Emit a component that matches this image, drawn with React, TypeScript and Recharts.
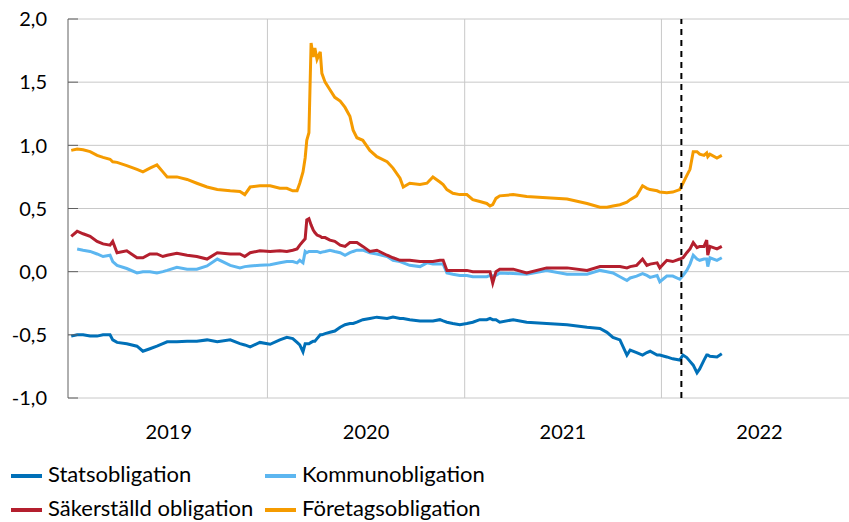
import React from "react";
import { LineChart, Line, XAxis, YAxis, CartesianGrid, ReferenceLine, Legend } from "recharts";

const FONT = "Lato, 'Open Sans', sans-serif";

const dates = [
  "2019-01-02", "2019-01-13", "2019-01-24", "2019-02-06", "2019-02-19", "2019-03-02", "2019-03-15", "2019-03-20",
  "2019-03-28", "2019-04-15", "2019-05-04", "2019-05-15", "2019-05-28", "2019-06-10", "2019-06-21", "2019-06-29",
  "2019-07-17", "2019-08-05", "2019-08-23", "2019-09-11", "2019-09-30", "2019-10-24", "2019-11-11", "2019-11-20",
  "2019-11-30", "2019-12-18", "2020-01-06", "2020-01-24", "2020-02-06", "2020-02-17", "2020-02-25", "2020-03-01",
  "2020-03-07", "2020-03-11", "2020-03-14", "2020-03-18", "2020-03-22", "2020-03-26", "2020-03-29", "2020-04-02",
  "2020-04-08", "2020-04-11", "2020-04-17", "2020-04-26", "2020-05-05", "2020-05-15", "2020-05-24", "2020-06-02",
  "2020-06-08", "2020-06-15", "2020-06-26", "2020-07-09", "2020-07-22", "2020-08-10", "2020-08-21", "2020-09-03",
  "2020-09-09", "2020-09-21", "2020-10-10", "2020-10-23", "2020-11-03", "2020-11-16", "2020-11-22", "2020-11-29",
  "2020-12-10", "2020-12-23", "2021-01-05", "2021-01-16", "2021-01-29", "2021-02-11", "2021-02-17", "2021-02-22",
  "2021-02-28", "2021-03-07", "2021-04-01", "2021-04-26", "2021-06-02", "2021-07-10", "2021-08-16", "2021-09-09",
  "2021-09-22", "2021-10-03", "2021-10-16", "2021-10-29", "2021-11-04", "2021-11-16", "2021-11-27", "2021-12-05",
  "2021-12-11", "2021-12-24", "2021-12-29", "2022-01-11", "2022-01-22", "2022-02-04", "2022-02-10", "2022-02-17",
  "2022-02-23", "2022-03-01", "2022-03-08", "2022-03-13", "2022-03-21", "2022-03-26", "2022-03-28", "2022-04-01",
  "2022-04-14", "2022-04-23",
];

const stats = [
  -0.51, -0.5, -0.5, -0.51, -0.51, -0.5, -0.5, -0.54,
  -0.56, -0.57, -0.59, -0.63, -0.61, -0.59, -0.57, -0.555,
  -0.555, -0.55, -0.55, -0.54, -0.555, -0.54, -0.57, -0.58,
  -0.595, -0.56, -0.575, -0.54, -0.52, -0.53, -0.56, -0.58,
  -0.635, -0.57, -0.57, -0.57, -0.56, -0.55, -0.55, -0.53,
  -0.5, -0.5, -0.49, -0.48, -0.47, -0.44, -0.42, -0.41,
  -0.41, -0.4, -0.38, -0.37, -0.36, -0.37, -0.36, -0.37,
  -0.37, -0.38, -0.39, -0.39, -0.39, -0.38, -0.39, -0.4,
  -0.41, -0.42, -0.41, -0.4, -0.38, -0.38, -0.37, -0.38,
  -0.38, -0.4, -0.38, -0.4, -0.41, -0.42, -0.44, -0.45,
  -0.48, -0.52, -0.54, -0.66, -0.62, -0.64, -0.66, -0.64,
  -0.63, -0.66, -0.66, -0.675, -0.69, -0.7, -0.66, -0.68,
  -0.71, -0.74, -0.8, -0.77, -0.7, -0.66, -0.66, -0.67,
  -0.675, -0.65,
];

const kommun = [
  null, 0.18, 0.17, 0.16, 0.14, 0.12, 0.13, 0.08,
  0.05, 0.025, -0.01, 0.0, 0.0, -0.01, 0.0, 0.01,
  0.035, 0.02, 0.02, 0.045, 0.1, 0.05, 0.03, 0.04,
  0.045, 0.05, 0.055, 0.07, 0.08, 0.08, 0.07, 0.09,
  0.07, 0.16, 0.15, 0.16, 0.16, 0.16, 0.16, 0.16,
  0.15, 0.155, 0.16, 0.17, 0.16, 0.15, 0.13, 0.15,
  0.16, 0.17, 0.17, 0.15, 0.14, 0.12, 0.09, 0.08,
  0.07, 0.05, 0.04, 0.07, 0.06, 0.06, 0.06, -0.01,
  -0.02, -0.03, -0.03, -0.04, -0.04, -0.04, -0.03, -0.035,
  -0.03, -0.01, -0.015, -0.02, 0.01, -0.02, -0.02, 0.01,
  0.0, -0.01, -0.04, -0.07, -0.05, -0.035, -0.015, -0.03,
  -0.045, -0.03, -0.08, -0.035, -0.035, -0.06, -0.03, 0.01,
  0.06, 0.13, 0.1, 0.09, 0.1, 0.1, 0.04, 0.11,
  0.09, 0.11,
];

const sakerstalld = [
  0.28, 0.32, 0.3, 0.28, 0.24, 0.22, 0.21, 0.24,
  0.15, 0.165, 0.11, 0.11, 0.14, 0.14, 0.12, 0.13,
  0.145, 0.13, 0.12, 0.1, 0.15, 0.14, 0.14, 0.12,
  0.15, 0.165, 0.16, 0.165, 0.16, 0.17, 0.18, 0.21,
  0.24, 0.26, 0.41, 0.42, 0.37, 0.33, 0.31, 0.29,
  0.28, 0.27, 0.27, 0.25, 0.24, 0.21, 0.2, 0.23,
  0.23, 0.23, 0.2, 0.16, 0.17, 0.13, 0.11, 0.09,
  0.09, 0.09, 0.08, 0.08, 0.08, 0.09, 0.09, 0.01,
  0.01, 0.01, 0.01, 0.0, 0.0, 0.0, 0.0, -0.09,
  0.0, 0.02, 0.02, -0.01, 0.03, 0.03, 0.01, 0.04,
  0.04, 0.04, 0.04, 0.03, 0.04, 0.05, 0.1, 0.05,
  0.06, 0.07, 0.03, 0.09, 0.08, 0.1, 0.11, 0.15,
  0.18, 0.23, 0.19, 0.2, 0.2, 0.25, 0.13, 0.2,
  0.18, 0.2,
];

const foretag = [
  0.96, 0.97, 0.965, 0.95, 0.92, 0.905, 0.89, 0.87,
  0.865, 0.84, 0.81, 0.79, 0.82, 0.845, 0.79, 0.75,
  0.75, 0.73, 0.7, 0.67, 0.65, 0.64, 0.635, 0.61,
  0.67, 0.68, 0.68, 0.66, 0.66, 0.64, 0.64, 0.7,
  0.79, 0.9, 1.04, 1.1, 1.81, 1.7, 1.77, 1.68,
  1.74, 1.57, 1.5, 1.44, 1.38, 1.35, 1.3, 1.23,
  1.12, 1.06, 1.04, 0.96, 0.91, 0.87, 0.82, 0.74,
  0.67, 0.7, 0.69, 0.7, 0.75, 0.71, 0.69, 0.65,
  0.62, 0.61, 0.61, 0.57, 0.555, 0.54, 0.52, 0.53,
  0.58, 0.6, 0.61, 0.595, 0.585, 0.575, 0.54, 0.51,
  0.51, 0.52, 0.53, 0.55, 0.57, 0.6, 0.68, 0.66,
  0.65, 0.64, 0.63, 0.625, 0.63, 0.65, 0.7, 0.76,
  0.81, 0.95, 0.95, 0.93, 0.92, 0.94, 0.91, 0.93,
  0.9, 0.92,
];

const yearStarts = ["2020-01-01", "2021-01-01", "2022-01-01"];
const yearLabelDates = ["2019-07-02", "2020-07-02", "2021-07-02", "2022-07-02"];
const yearLabels = ["2019", "2020", "2021", "2022"];
const markerDate = "2022-02-07";
const yTicks = [-1, -0.5, 0, 0.5, 1, 1.5, 2];

const seriesNames = ["Statsobligation", "Kommunobligation", "Säkerställd obligation", "Företagsobligation"];
const seriesColors = ["#0070b8", "#5cb6f0", "#b41f2e", "#f59b00"];

const BASE = Date.UTC(2019, 0, 1);
const toDay = (s: string) => (Date.parse(s) - BASE) / 86400000;

const data = dates.map((s, i) => ({
  d: toDay(s),
  s0: stats[i],
  s1: kommun[i],
  s2: sakerstalld[i],
  s3: foretag[i],
}));

const fmt = (v: number) => v.toFixed(1).replace(".", ",");

const LeftTick = (props: any) => {
  const { x, y, payload } = props;
  return (
    <g>
      <line x1={x} x2={x + 10} y1={y} y2={y} stroke="#606060" strokeWidth={1} />
      <text x={x - 21} y={y} dy="0.36em" textAnchor="end" fontSize={20} fontFamily={FONT} fill="#000">
        {fmt(payload.value)}
      </text>
    </g>
  );
};

const RightTick = (props: any) => {
  const { x, y } = props;
  return <line x1={x - 3} x2={x} y1={y} y2={y} stroke="#606060" strokeWidth={1} />;
};

const legendPos = [
  { left: 11, top: 0 },
  { left: 265, top: 0 },
  { left: 11, top: 34 },
  { left: 265, top: 34 },
];

const renderLegend = () => (
  <div style={{ position: "relative", width: 849, height: 62, fontFamily: FONT, fontSize: 22, color: "#000" }}>
    {seriesNames.map((name, i) => (
      <React.Fragment key={name}>
        <div style={{ position: "absolute", left: legendPos[i].left, top: legendPos[i].top + 14, width: 31, height: 4, background: seriesColors[i] }} />
        <div style={{ position: "absolute", left: legendPos[i].left + 37, top: legendPos[i].top + 1, lineHeight: "26px", whiteSpace: "nowrap" }}>
          {name}
        </div>
      </React.Fragment>
    ))}
  </div>
);

export default function App() {
  return (
    <div style={{ position: "absolute", left: 0, top: 0 }}>
      <LineChart width={849} height={522} data={data} margin={{ top: 19, right: 0, bottom: 0, left: 0 }}>
        <CartesianGrid vertical={false} stroke="#c8c8c8" />
        <XAxis
          dataKey="d"
          type="number"
          domain={[-5, 1444]}
          ticks={yearLabelDates.map(toDay)}
          tickFormatter={(v: number) => yearLabels[yearLabelDates.map(toDay).indexOf(v)]}
          tickLine={false}
          axisLine={false}
          tickSize={0}
          tickMargin={27}
          height={62}
          tick={{ fontSize: 20, fontFamily: FONT, fill: "#000" }}
          allowDataOverflow
        />
        <YAxis
          domain={[-1, 2]}
          ticks={yTicks}
          width={68}
          tickLine={false}
          tickSize={0}
          tickMargin={0}
          axisLine={{ stroke: "#606060" }}
          tick={<LeftTick />}
          interval={0}
        />
        <YAxis
          yAxisId="r"
          orientation="right"
          domain={[-1, 2]}
          ticks={yTicks}
          width={0}
          tickLine={false}
          tickSize={0}
          tickMargin={0}
          axisLine={{ stroke: "#606060" }}
          tick={<RightTick />}
          interval={0}
        />
        {yearStarts.map((s) => (
          <ReferenceLine key={s} x={toDay(s)} stroke="#c8c8c8" strokeWidth={1} />
        ))}
        <Legend verticalAlign="bottom" content={renderLegend} wrapperStyle={{ left: 0, top: 460, width: 849, height: 62 }} />
        {seriesNames.map((name, i) => (
          <Line
            key={name}
            name={name}
            dataKey={`s${i}`}
            stroke={seriesColors[i]}
            strokeWidth={3}
            dot={false}
            type="linear"
            isAnimationActive={false}
          />
        ))}
        <ReferenceLine x={toDay(markerDate)} stroke="#000" strokeWidth={2} strokeDasharray="6 5" />
      </LineChart>
    </div>
  );
}
